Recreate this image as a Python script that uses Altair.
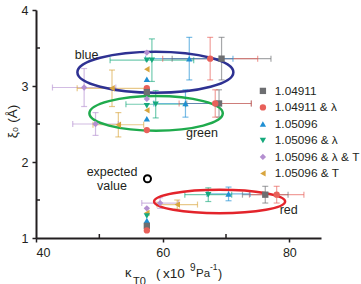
import altair as alt
import pandas as pd

FONT = "Liberation Sans"
INK = "#231f20"

series = ["1.04911", "1.04911 & λ", "1.05096", "1.05096 & λ", "1.05096 & λ & T", "1.05096 & T"]
colors = ["#6d6e71", "#e8605a", "#1f8fd3", "#16a97c", "#b48fd0", "#d8a53e"]
shapes = ["square", "circle", "triangle-up", "triangle-down", "diamond", "triangle-left"]

# fitted points (three clusters: blue, green, red)
fit_series = series + series + series
fit_kappa = [69.3, 67.5, 64.2, 58.3, 47.6, 52.0,
             68.9, 68.3, 63.6, 58.9, 49.4, 53.0,
             76.2, 78.0, 70.4, 67.2, 59.6, 62.3]
fit_xi = [3.36, 3.36, 3.36, 3.34, 2.98, 2.97,
          2.77, 2.77, 2.77, 2.76, 2.50, 2.49,
          1.57, 1.57, 1.58, 1.57, 1.46, 1.44]
fit_kerr = [7.8, 7.5, 6.9, 6.6, 5.0, 5.5,
            5.1, 5.7, 5.0, 4.7, 3.6, 4.0,
            3.6, 4.3, 3.4, 3.7, 2.9, 3.2]
fit_xerr = [0.28, 0.28, 0.28, 0.28, 0.25, 0.24,
            0.18, 0.18, 0.18, 0.18, 0.15, 0.16,
            0.11, 0.11, 0.09, 0.09, 0.07, 0.06]

# points in the fixed-kappa column
col_series = ["1.05096 & λ & T", "1.05096 & λ", "1.05096 & T", "1.05096", "1.04911 & λ", "1.04911",
              "1.05096 & λ & T", "1.05096 & λ", "1.05096 & T", "1.05096", "1.04911 & λ",
              "1.05096 & λ & T", "1.05096 & T", "1.05096 & λ", "1.05096", "1.04911", "1.04911 & λ"]
col_kappa = [57.5, 57.5, 57.5, 57.5, 57.5, 57.5,
             57.5, 57.5, 57.5, 57.5, 57.5,
             57.5, 57.5, 57.5, 57.5, 57.5, 57.5]
col_xi = [3.44, 3.34, 3.22, 3.09, 2.97, 2.92,
          2.83, 2.74, 2.68, 2.57, 2.42,
          1.39, 1.33, 1.29, 1.23, 1.16, 1.10]

# expected value
exp_kappa = [57.6]
exp_xi = [1.78]

# ellipse annotations
ell_names = ["blue", "green", "red"]
ell_kappa = [58.85, 58.96, 68.99]
ell_xi = [3.18, 2.64, 1.48]

# text annotations
ann_text = ["blue", "green", "red", "expected", "value"]
ann_kappa = [47.98, 66.2, 79.9, 52.0, 52.0]
ann_xi = [3.41, 2.38, 1.37, 1.87, 1.68]

x_ticks = [40, 60, 80]
y_ticks = [1, 2, 3, 4]
x_minor = [50, 70]
y_minor = [1.5, 2.5, 3.5]

fit = pd.DataFrame({"series": fit_series, "kappa": fit_kappa, "xi": fit_xi,
                    "kerr": fit_kerr, "xerr": fit_xerr})
fit["klo"] = fit["kappa"] - fit["kerr"]
fit["khi"] = fit["kappa"] + fit["kerr"]
fit["ylo"] = fit["xi"] - fit["xerr"]
fit["yhi"] = fit["xi"] + fit["xerr"]

pts = pd.concat([
    fit[["series", "kappa", "xi"]],
    pd.DataFrame({"series": col_series, "kappa": col_kappa, "xi": col_xi}),
], ignore_index=True)

xs = alt.Scale(domain=[40, 85], nice=False, zero=False, padding=0)
ys = alt.Scale(domain=[1, 4], nice=False, zero=False, padding=0)
cs = alt.Scale(domain=series, range=colors)
ss = alt.Scale(domain=series, range=shapes)

xaxis = alt.Axis(values=x_ticks, title=None, tickSize=4, domainWidth=2, domainColor=INK,
                 tickColor=INK, tickWidth=1.5, labelFontSize=12.5, labelColor=INK,
                 labelPadding=4, grid=False, labelFont=FONT)
yaxis = alt.Axis(values=y_ticks, title="ξ₀ (Å)", tickSize=4, domainWidth=2, domainColor=INK,
                 tickColor=INK, tickWidth=1.5, labelFontSize=12.5, labelColor=INK,
                 labelPadding=4, grid=False, labelFont=FONT, format="d",
                 titleFont=FONT, titleFontSize=13.5, titleFontWeight="normal", titleColor=INK,
                 titleAngle=270, titleX=-24, titleY=111, titleAlign="center",
                 titleBaseline="middle")

base = alt.Chart(fit)
ebx = base.mark_rule(strokeWidth=1.2, opacity=0.6).encode(
    x=alt.X("klo:Q", scale=xs, axis=xaxis), x2="khi:Q",
    y=alt.Y("xi:Q", scale=ys, axis=yaxis),
    color=alt.Color("series:N", scale=cs, legend=None))
eby = base.mark_rule(strokeWidth=1.2, opacity=0.6).encode(
    x=alt.X("kappa:Q", scale=xs), y=alt.Y("ylo:Q", scale=ys), y2="yhi:Q",
    color=alt.Color("series:N", scale=cs, legend=None))
caps = []
for fx in ["klo", "khi"]:
    caps.append(base.mark_tick(orient="vertical", thickness=1.2, size=6, opacity=0.6).encode(
        x=alt.X(f"{fx}:Q", scale=xs), y=alt.Y("xi:Q", scale=ys),
        color=alt.Color("series:N", scale=cs, legend=None)))
for fy in ["ylo", "yhi"]:
    caps.append(base.mark_tick(orient="horizontal", thickness=1.2, size=6, opacity=0.6).encode(
        x=alt.X("kappa:Q", scale=xs), y=alt.Y(f"{fy}:Q", scale=ys),
        color=alt.Color("series:N", scale=cs, legend=None)))

leg = alt.Legend(orient="none", legendX=221, legendY=75, title=None, labelFont=FONT,
                 labelFontSize=11.8, labelColor=INK, symbolSize=40, rowPadding=3.5,
                 labelOffset=6, padding=0, symbolStrokeWidth=0)
points = alt.Chart(pts).mark_point(filled=True, size=40, opacity=1).encode(
    x=alt.X("kappa:Q", scale=xs), y=alt.Y("xi:Q", scale=ys),
    color=alt.Color("series:N", scale=cs, legend=leg),
    shape=alt.Shape("series:N", scale=ss, legend=leg))

ell_df = pd.DataFrame({"name": ell_names, "kappa": ell_kappa, "xi": ell_xi})
ell_style = {"blue": ("#2e3192", 156, 0.263), "green": ("#1fab4d", 133.4, 0.26),
             "red": ("#e3242b", 131, 0.179)}
ells = []
for nm in ell_names:
    col, w, r = ell_style[nm]
    path = f"M-1,0A1,{r},0,1,1,1,0A1,{r},0,1,1,-1,0Z"
    ells.append(alt.Chart(ell_df).transform_filter(alt.datum.name == nm).mark_point(
        shape=path, size=w * w, filled=False, stroke=col, strokeWidth=2.5, opacity=1).encode(
        x=alt.X("kappa:Q", scale=xs), y=alt.Y("xi:Q", scale=ys)))

expected = alt.Chart(pd.DataFrame({"kappa": exp_kappa, "xi": exp_xi})).mark_point(
    shape="circle", size=50, filled=False, stroke="black", strokeWidth=2, opacity=1).encode(
    x=alt.X("kappa:Q", scale=xs), y=alt.Y("xi:Q", scale=ys))

ann = alt.Chart(pd.DataFrame({"t": ann_text, "kappa": ann_kappa, "xi": ann_xi})).mark_text(
    font=FONT, fontSize=12.5, color=INK, align="center", baseline="middle").encode(
    x=alt.X("kappa:Q", scale=xs), y=alt.Y("xi:Q", scale=ys), text="t:N")

minor_x = alt.Chart(pd.DataFrame({"v": x_minor})).mark_rule(color=INK, strokeWidth=1.5).encode(
    x=alt.X("v:Q", scale=xs), y=alt.value(228), y2=alt.value(224))
minor_y = alt.Chart(pd.DataFrame({"v": y_minor})).mark_rule(color=INK, strokeWidth=1.5).encode(
    y=alt.Y("v:Q", scale=ys), x=alt.value(0), x2=alt.value(4))

one = pd.DataFrame({"k": [0]})
def piece(txt, px, py, fs):
    return alt.Chart(one).mark_text(font=FONT, fontSize=fs, color=INK, align="left",
                                    baseline="middle").encode(
        x=alt.value(px), y=alt.value(py), text=alt.value(txt))

xtitle = [piece("κ", 89, 263, 13), piece("T0", 97, 272, 11), piece("(", 120, 264, 13),
          piece("x10", 127, 264, 13.5), piece("9", 154, 258, 10), piece("Pa", 160, 264, 11.5),
          piece("-1", 174, 257, 8.5), piece(")", 182, 264, 12.5)]

chart = alt.layer(ebx, eby, *caps, *ells, points, expected, ann, minor_x, minor_y, *xtitle).properties(
    width=285, height=228,
    padding={"left": 36, "top": 10, "right": 40, "bottom": 46},
    autosize=alt.AutoSizeParams(type="none"),
).configure_view(stroke=None).resolve_scale(color="independent", shape="independent")

chart.save("out.html", embed_options={"renderer": "svg", "actions": False})
